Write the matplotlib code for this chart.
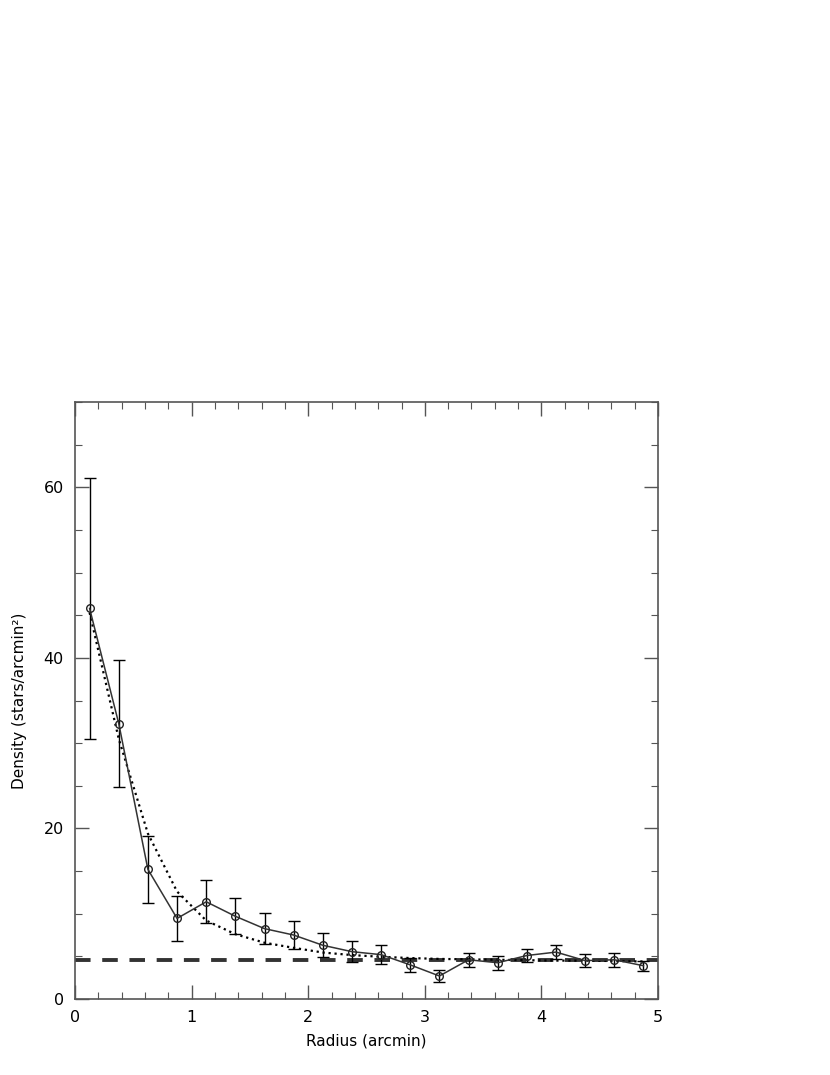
import matplotlib.pyplot as plt
from matplotlib.ticker import MultipleLocator

# radial density profile
radius = [0.125, 0.375, 0.625, 0.875, 1.125, 1.375, 1.625, 1.875, 2.125, 2.375,
          2.625, 2.875, 3.125, 3.375, 3.625, 3.875, 4.125, 4.375, 4.625, 4.875]
density = [45.8, 32.3, 15.2, 9.45, 11.4, 9.7, 8.25, 7.5, 6.3, 5.55,
           5.2, 4.0, 2.7, 4.6, 4.25, 5.1, 5.5, 4.5, 4.6, 3.9]
density_err = [15.3, 7.4, 3.9, 2.6, 2.5, 2.1, 1.8, 1.6, 1.4, 1.25,
               1.1, 0.85, 0.7, 0.85, 0.8, 0.8, 0.85, 0.75, 0.8, 0.6]
# fitted profile (dotted) at the same radii
king_fit = [45.3, 30.5, 19.4, 12.6, 9.2, 7.6, 6.6, 6.0, 5.45, 5.15,
            4.95, 4.8, 4.7, 4.65, 4.6, 4.55, 4.5, 4.5, 4.45, 4.4]
background = 4.6

fig = plt.figure(figsize=(8.3, 10.75), dpi=100)
ax = fig.add_axes([0.0904, 0.0707, 0.7024, 0.5553])

ax.axhline(background, color='#333333', lw=2.8, ls=(0, (4, 3)), zorder=1)
ax.plot(radius, king_fit, color='black', lw=1.6, ls=(0, (1, 1.7)), zorder=2)
ax.errorbar(radius, density, yerr=density_err, fmt='none', ecolor='black',
            elinewidth=1.0, capsize=4.5, capthick=1.0, zorder=3)
ax.plot(radius, density, color='#333333', lw=1.1, marker='o', ms=5.5,
        mfc='none', mec='#222222', mew=1.0, zorder=4)

ax.set_xlim(0, 5)
ax.set_ylim(0, 70)
ax.xaxis.set_major_locator(MultipleLocator(1))
ax.xaxis.set_minor_locator(MultipleLocator(0.2))
ax.yaxis.set_major_locator(MultipleLocator(20))
ax.yaxis.set_minor_locator(MultipleLocator(5))
ax.tick_params(which='both', direction='in', top=True, right=True,
               color='#555555', labelsize=11.5, pad=8)
ax.tick_params(which='major', length=10, width=1.0)
ax.tick_params(which='minor', length=5, width=0.8)
for s in ax.spines.values():
    s.set_color('#555555')
    s.set_linewidth(1.2)

ax.set_xlabel('Radius (arcmin)', fontsize=11, labelpad=6)
ax.set_ylabel('Density (stars/arcmin²)', fontsize=11, labelpad=12)

fig.savefig('out.png', dpi=100)
